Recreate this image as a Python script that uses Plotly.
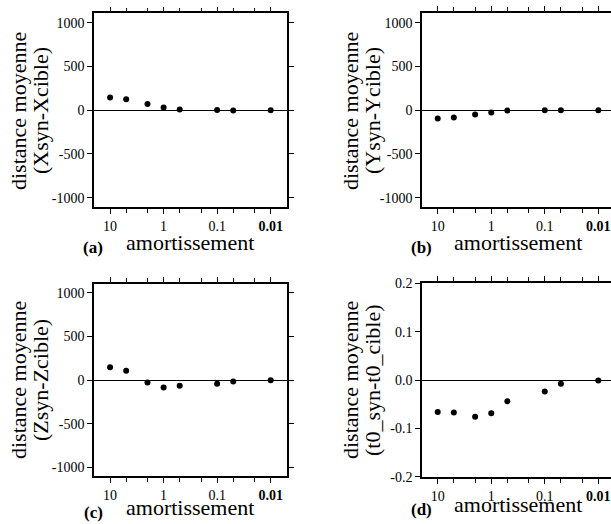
import plotly.graph_objects as go

# ---- data ----
amort = [10, 5, 2, 1, 0.5, 0.1, 0.05, 0.01]
dist_x = [145, 126, 70, 30, 8, 2, -3, 0]
dist_y = [-95, -84, -50, -28, -3, 0, 0, 0]
dist_z = [148, 107, -27, -84, -65, -42, -15, 0]
dist_t0 = [-0.066, -0.067, -0.076, -0.069, -0.044, -0.024, -0.008, -0.001]

x_tickvals = [10, 1, 0.1, 0.01]
x_ticktext = ["10", "1", "0.1", "<b>0.01</b>"]
x_minor_vals = [5, 2, 0.5, 0.2, 0.05, 0.02]
y_tickvals_pos = [-1000, -500, 0, 500, 1000]
y_ticktext_pos = ["-1000", "-500", "0", "500", "1000"]
y_tickvals_t0 = [-0.2, -0.1, 0, 0.1, 0.2]
y_ticktext_t0 = ["-0.2", "-0.1", "0.0", "0.1", "0.2"]
panel_labels = ["(a)", "(b)", "(c)", "(d)"]
y_titles = ["(Xsyn-Xcible)", "(Ysyn-Ycible)", "(Zsyn-Zcible)", "(t0_syn-t0_cible)"]
x_title = "amortissement"
y_title_main = "distance moyenne"
series = [dist_x, dist_y, dist_z, dist_t0]

# ---- layout (pixels) ----
W, H = 611, 524
FONT = "Liberation Serif, Times New Roman, serif"
panels = [
    dict(x0=94, x1=287, y0=13.3, y1=207, xr=[1.3, -2.305], yr=[-1107, 1107],
         tv=y_tickvals_pos, tt=y_ticktext_pos, mirror="ticks",
         tx=189.5, ty=242, lx=93, ly=247, yt1=18, yt2=40, ytc=111),
    dict(x0=422.3, x1=611, y0=13.3, y1=207, xr=[1.288, -2.237], yr=[-1107, 1107],
         tv=y_tickvals_pos, tt=y_ticktext_pos, mirror=False,
         tx=517.7, ty=242, lx=421, ly=247, yt1=350, yt2=372, ytc=111),
    dict(x0=94, x1=287, y0=284, y1=476, xr=[1.3, -2.305], yr=[-1097, 1100],
         tv=y_tickvals_pos, tt=y_ticktext_pos, mirror="ticks",
         tx=189.5, ty=507, lx=93, ly=512, yt1=18, yt2=40, ytc=380),
    dict(x0=422.3, x1=611, y0=283.3, y1=476.7, xr=[1.288, -2.237], yr=[-0.2, 0.2],
         tv=y_tickvals_t0, tt=y_ticktext_t0, mirror=False,
         tx=517.7, ty=504, lx=421, ly=509, yt1=350, yt2=372, ytc=380),
]

def px(x):
    return x / W

def py(y):
    return 1 - y / H

fig = go.Figure()
layout = dict(
    width=W, height=H, autosize=False,
    margin=dict(l=0, r=0, t=0, b=0, pad=0),
    paper_bgcolor="white", plot_bgcolor="white",
    showlegend=False,
    font=dict(family=FONT, color="black", size=14),
)
annotations = []
for i, (p, vals) in enumerate(zip(panels, series)):
    n = "" if i == 0 else str(i + 1)
    fig.add_trace(go.Scatter(
        x=amort, y=vals, mode="markers",
        marker=dict(size=6, color="black"),
        xaxis="x" + n, yaxis="y" + n, hoverinfo="x+y", cliponaxis=False,
    ))
    lw_left = 1.5 if p["mirror"] else 2
    layout["xaxis" + n] = dict(
        type="log", range=p["xr"], domain=[px(p["x0"]), px(p["x1"])],
        anchor="y" + n, automargin=False,
        tickmode="array", tickvals=x_tickvals, ticktext=x_ticktext,
        ticks="outside", ticklen=5, tickwidth=1, tickcolor="black",
        showline=True, linecolor="black", linewidth=lw_left,
        mirror="allticks", showgrid=False, zeroline=False,
        tickfont=dict(family=FONT, size=14, color="black"),
        minor=dict(tickmode="array", tickvals=x_minor_vals, ticks="outside",
                   ticklen=4, tickwidth=1, tickcolor="black", showgrid=False),
    )
    layout["yaxis" + n] = dict(
        range=p["yr"], domain=[py(p["y1"]), py(p["y0"])],
        anchor="x" + n, automargin=False,
        tickmode="array", tickvals=p["tv"], ticktext=p["tt"],
        ticks="outside", ticklen=5, tickwidth=1, tickcolor="black",
        showline=True, linecolor="black", linewidth=lw_left,
        mirror=p["mirror"], showgrid=False,
        zeroline=True, zerolinecolor="black", zerolinewidth=1,
        tickfont=dict(family=FONT, size=14, color="black"),
    )
    annotations.append(dict(
        text=x_title, x=px(p["tx"]), y=py(p["ty"]), xref="paper", yref="paper",
        xanchor="center", yanchor="middle", showarrow=False,
        font=dict(family=FONT, size=22, color="black"),
    ))
    annotations.append(dict(
        text="<b>" + panel_labels[i] + "</b>", x=px(p["lx"]), y=py(p["ly"]),
        xref="paper", yref="paper", xanchor="center", yanchor="middle",
        showarrow=False, font=dict(family=FONT, size=17, color="black"),
    ))
    annotations.append(dict(
        text=y_title_main, x=px(p["yt1"]), y=py(p["ytc"]), xref="paper", yref="paper",
        xanchor="center", yanchor="middle", textangle=-90, showarrow=False,
        font=dict(family=FONT, size=22, color="black"),
    ))
    annotations.append(dict(
        text=y_titles[i], x=px(p["yt2"]), y=py(p["ytc"]), xref="paper", yref="paper",
        xanchor="center", yanchor="middle", textangle=-90, showarrow=False,
        font=dict(family=FONT, size=22, color="black"),
    ))

layout["annotations"] = annotations
fig.update_layout(**layout)
fig.write_html(
    "out.html",
    config={"displayModeBar": False},
    post_script="document.body.style.margin='0';document.body.style.overflow='hidden';",
)
